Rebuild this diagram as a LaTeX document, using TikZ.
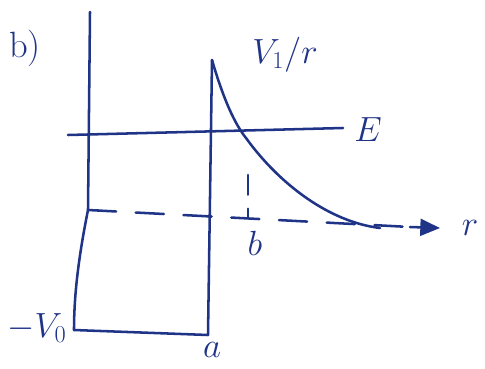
\documentclass[tikz,border=0pt]{standalone}
\usetikzlibrary{arrows.meta}
\definecolor{ink}{RGB}{32,52,135}
\begin{document}
\begin{tikzpicture}[x=0.025cm, y=-0.025cm, ink, line width=1.8pt, line cap=round, line join=round,
    lbl/.style={font=\fontsize{26}{28}\selectfont, text=ink}]
    \useasboundingbox (0,0) rectangle (485,368);

    % Axes
    \draw (90,12) -- (88,210) .. controls (80,250) and (74,290) .. (74,330);
    \draw[dashed, dash pattern=on 20pt off 14pt] (88,210) -- (410,227);
    \draw[-{Triangle[length=14pt, width=12pt]}] (410,227) -- (440,228);
    \draw (88,210) -- (98,210);

    % Well and barrier
    \draw (74,330) -- (208,335) -- (212,60);
    \draw (212,60) .. controls (226,108) and (238,128) .. (246,138)
        .. controls (280,185) and (330,222) .. (380,228);

    % Energy level
    \draw (68,135) -- (343,128);
    \draw[dashed, dash pattern=on 14pt off 10pt] (248,175) -- (248,218);

    % Labels
    \node[lbl] (part) at (25,48) {b)};
    \node[lbl] (pot) at (285,55) {$V_1/r$};
    \node[lbl] (en) at (368,130) {$E$};
    \node[lbl] (rr) at (470,228) {$r$};
    \node[lbl] (bb) at (255,243) {$b$};
    \node[lbl] (vz) at (37,328) {$-V_0$};
    \node[lbl] (aa) at (212,350) {$a$};
\end{tikzpicture}
\end{document}
